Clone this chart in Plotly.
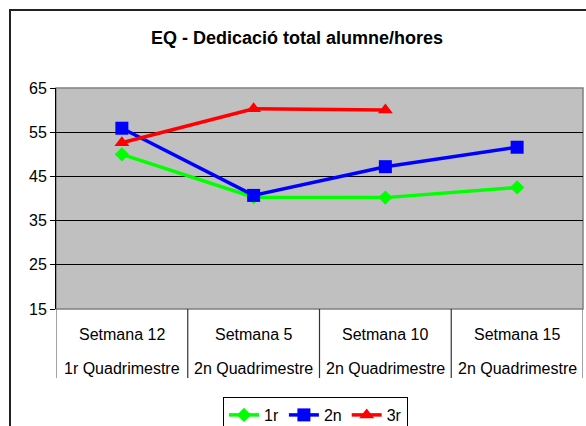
import plotly.graph_objects as go

weeks = ["Setmana 12", "Setmana 5", "Setmana 10", "Setmana 15"]
terms = ["1r Quadrimestre", "2n Quadrimestre", "2n Quadrimestre", "2n Quadrimestre"]
s1r = [50.0, 40.3, 40.2, 42.5]
s2n = [55.9, 40.7, 47.2, 51.6]
s3r = [52.6, 60.3, 60.0, None]
y_ticks = [15, 25, 35, 45, 55, 65]

W, H = 586, 426
L, R, T, B = 56, 3, 88, 117
pw, ph = W - L - R, H - T - B

def px(x):
    return (x - L) / pw

def py(y):
    return (H - B - y) / ph

xs = list(range(len(weeks)))
fig = go.Figure()
fig.add_trace(go.Scatter(x=xs, y=s1r, name="1r", mode="lines+markers",
                         line=dict(color="#00FF00", width=3.5),
                         marker=dict(symbol="diamond", size=11, color="#00FF00")))
fig.add_trace(go.Scatter(x=xs, y=s2n, name="2n", mode="lines+markers",
                         line=dict(color="#0000FF", width=3.5),
                         marker=dict(symbol="square", size=13, color="#0000FF")))
fig.add_trace(go.Scatter(x=xs, y=s3r, name="3r", mode="lines+markers",
                         line=dict(color="#FF0000", width=3.5),
                         marker=dict(symbol="triangle-up", size=13, color="#FF0000")))

shapes = []
shapes.append(dict(type="rect", xref="paper", yref="paper", x0=0, x1=1, y0=0, y1=1,
                   line=dict(color="#808080", width=1.5), layer="below"))
shapes.append(dict(type="rect", xref="paper", yref="paper",
                   x0=px(10), x1=px(600), y0=py(440), y1=py(10),
                   line=dict(color="#222222", width=2)))
for i in range(len(weeks) + 1):
    shapes.append(dict(type="line", xref="x", yref="paper", x0=i - 0.5, x1=i - 0.5,
                       y0=0, y1=py(378),
                       line=dict(color="#333333" if 0 < i < len(weeks) else "#666666", width=1.2)))

annotations = []
for i, (w, t) in enumerate(zip(weeks, terms)):
    annotations.append(dict(x=i, y=py(334), xref="x", yref="paper", text=w, showarrow=False,
                            font=dict(size=16, color="#000000"), yanchor="middle"))
    annotations.append(dict(x=i, y=py(368), xref="x", yref="paper", text=t, showarrow=False,
                            font=dict(size=16, color="#000000"), yanchor="middle"))

fig.update_layout(
    width=W, height=H,
    margin=dict(l=L, r=R, t=T, b=B, autoexpand=False),
    paper_bgcolor="white",
    plot_bgcolor="#C0C0C0",
    font=dict(family="Liberation Sans, Arial, sans-serif", color="#000000", size=15),
    title=dict(text="<b>EQ - Dedicació total alumne/hores</b>", x=297 / W, xanchor="center",
               y=1 - 38 / H, yanchor="middle", font=dict(size=18)),
    showlegend=True,
    legend=dict(orientation="h", x=px(223), xanchor="left", y=py(397), yanchor="top",
                bordercolor="#000000", borderwidth=1, bgcolor="white",
                font=dict(size=16), itemwidth=30, tracegroupgap=0),
    shapes=shapes,
    annotations=annotations,
)
fig.update_xaxes(range=[-0.5, len(weeks) - 0.5], showticklabels=False, showgrid=False,
                 zeroline=False, showline=False, ticks="")
fig.update_yaxes(range=[15, 65], tickvals=y_ticks, showgrid=True, gridcolor="#000000", gridwidth=1,
                 zeroline=False, showline=True, linecolor="#000000", linewidth=1,
                 ticks="outside", ticklen=5, tickcolor="#000000", tickfont=dict(size=16))

fig.write_html("out.html", config={"displayModeBar": False},
               post_script="document.body.style.margin='0';")
